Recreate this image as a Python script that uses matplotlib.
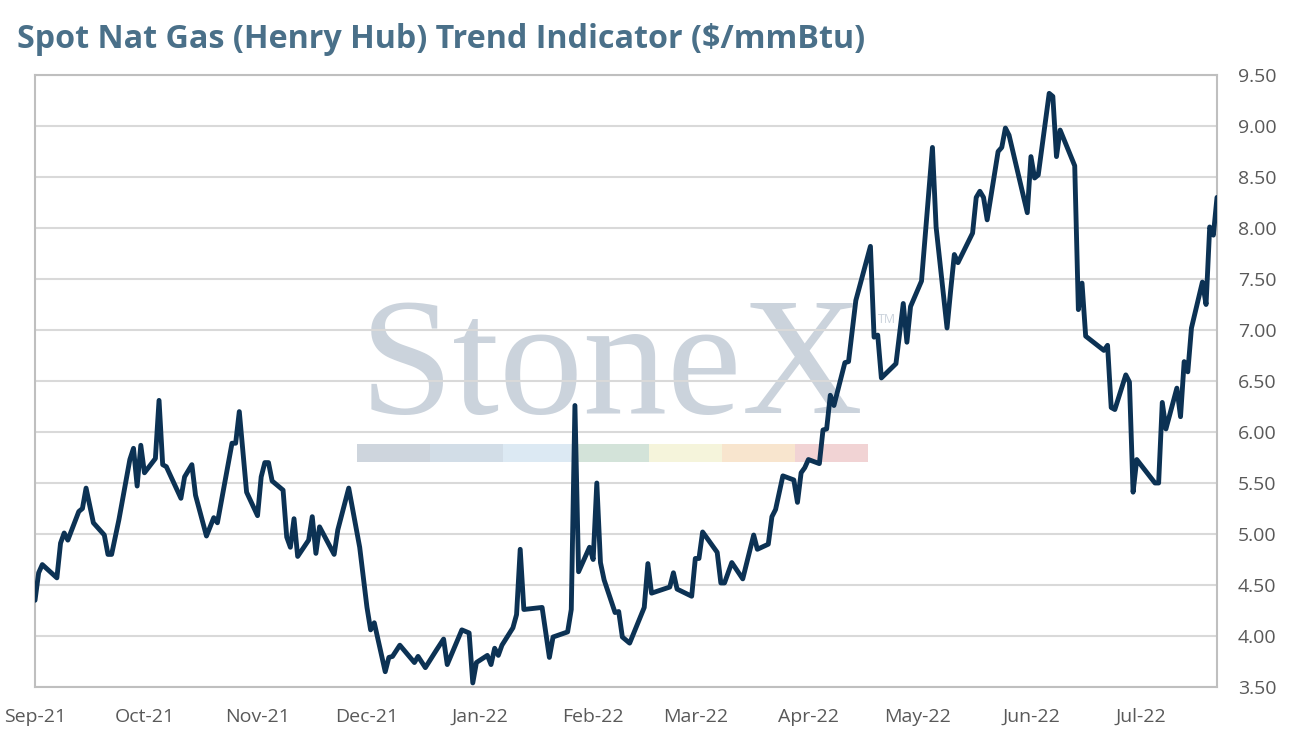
import matplotlib
matplotlib.use("Agg")
import matplotlib.pyplot as plt
import matplotlib.dates as mdates
from matplotlib.patches import Rectangle
from matplotlib.ticker import MultipleLocator, FormatStrFormatter
import pandas as pd

# Henry Hub spot price
dates = [
    "2021-09-01", "2021-09-02", "2021-09-03", "2021-09-07", "2021-09-08", "2021-09-09", "2021-09-10",
    "2021-09-13", "2021-09-14", "2021-09-15", "2021-09-17", "2021-09-20", "2021-09-21", "2021-09-22",
    "2021-09-24", "2021-09-27", "2021-09-28", "2021-09-29", "2021-09-30", "2021-10-01",
    "2021-10-04", "2021-10-05", "2021-10-06", "2021-10-07", "2021-10-11", "2021-10-12", "2021-10-14",
    "2021-10-15", "2021-10-18", "2021-10-20", "2021-10-21", "2021-10-25", "2021-10-26", "2021-10-27",
    "2021-10-28", "2021-10-29",
    "2021-11-01", "2021-11-02", "2021-11-03", "2021-11-04", "2021-11-05", "2021-11-08", "2021-11-09",
    "2021-11-10", "2021-11-11", "2021-11-12", "2021-11-15", "2021-11-16", "2021-11-17", "2021-11-18",
    "2021-11-22", "2021-11-23", "2021-11-26", "2021-11-29",
    "2021-12-01", "2021-12-02", "2021-12-03", "2021-12-06", "2021-12-07", "2021-12-08", "2021-12-10",
    "2021-12-14", "2021-12-15", "2021-12-17", "2021-12-20", "2021-12-22", "2021-12-23", "2021-12-27",
    "2021-12-29", "2021-12-30", "2021-12-31",
    "2022-01-03", "2022-01-04", "2022-01-05", "2022-01-06", "2022-01-07", "2022-01-10", "2022-01-11",
    "2022-01-12", "2022-01-13", "2022-01-18", "2022-01-20", "2022-01-21", "2022-01-25", "2022-01-26",
    "2022-01-27", "2022-01-28", "2022-01-31",
    "2022-02-01", "2022-02-02", "2022-02-03", "2022-02-04", "2022-02-07", "2022-02-08", "2022-02-09",
    "2022-02-11", "2022-02-15", "2022-02-16", "2022-02-17", "2022-02-22", "2022-02-23", "2022-02-24",
    "2022-02-28",
    "2022-03-01", "2022-03-02", "2022-03-03", "2022-03-07", "2022-03-08", "2022-03-09", "2022-03-11",
    "2022-03-14", "2022-03-17", "2022-03-18", "2022-03-21", "2022-03-22", "2022-03-23", "2022-03-25",
    "2022-03-28", "2022-03-29", "2022-03-30", "2022-03-31",
    "2022-04-01", "2022-04-04", "2022-04-05", "2022-04-06", "2022-04-07", "2022-04-08", "2022-04-11",
    "2022-04-12", "2022-04-14", "2022-04-18", "2022-04-19", "2022-04-20", "2022-04-21", "2022-04-25",
    "2022-04-27", "2022-04-28", "2022-04-29",
    "2022-05-02", "2022-05-05", "2022-05-06", "2022-05-09", "2022-05-10", "2022-05-11", "2022-05-12",
    "2022-05-16", "2022-05-17", "2022-05-18", "2022-05-19", "2022-05-20", "2022-05-23", "2022-05-24",
    "2022-05-25", "2022-05-26", "2022-05-31",
    "2022-06-01", "2022-06-02", "2022-06-03", "2022-06-06", "2022-06-07", "2022-06-08", "2022-06-09",
    "2022-06-13", "2022-06-14", "2022-06-15", "2022-06-16", "2022-06-21", "2022-06-22", "2022-06-23",
    "2022-06-24", "2022-06-27", "2022-06-28", "2022-06-29", "2022-06-30",
    "2022-07-05", "2022-07-06", "2022-07-07", "2022-07-08", "2022-07-11", "2022-07-12", "2022-07-13",
    "2022-07-14", "2022-07-15", "2022-07-18", "2022-07-19", "2022-07-20", "2022-07-21", "2022-07-22",
]
prices = [
    4.35, 4.62, 4.70, 4.57, 4.91, 5.01, 4.94,
    5.22, 5.25, 5.45, 5.11, 4.99, 4.80, 4.80,
    5.14, 5.73, 5.84, 5.47, 5.87, 5.60,
    5.74, 6.31, 5.68, 5.66, 5.35, 5.56, 5.68,
    5.38, 4.98, 5.16, 5.11, 5.89, 5.89, 6.20,
    5.80, 5.41,
    5.18, 5.56, 5.70, 5.70, 5.52, 5.43, 4.97,
    4.87, 5.15, 4.78, 4.94, 5.17, 4.81, 5.07,
    4.80, 5.04, 5.45, 4.87,
    4.28, 4.06, 4.13, 3.65, 3.79, 3.80, 3.91,
    3.74, 3.80, 3.69, 3.86, 3.97, 3.72, 4.06,
    4.03, 3.54, 3.74,
    3.81, 3.72, 3.88, 3.81, 3.91, 4.08, 4.21,
    4.85, 4.26, 4.28, 3.79, 3.99, 4.04, 4.26,
    6.26, 4.63, 4.87,
    4.75, 5.50, 4.72, 4.55, 4.23, 4.24, 3.99,
    3.93, 4.28, 4.71, 4.42, 4.48, 4.62, 4.46,
    4.39,
    4.76, 4.76, 5.02, 4.82, 4.52, 4.52, 4.72,
    4.56, 4.99, 4.85, 4.90, 5.17, 5.24, 5.57,
    5.53, 5.31, 5.60, 5.65,
    5.73, 5.69, 6.02, 6.03, 6.36, 6.26, 6.68,
    6.69, 7.29, 7.82, 6.93, 6.95, 6.53, 6.67,
    7.26, 6.88, 7.23,
    7.48, 8.79, 8.01, 7.02, 7.39, 7.74, 7.66,
    7.95, 8.30, 8.36, 8.30, 8.08, 8.75, 8.79,
    8.98, 8.91, 8.15,
    8.70, 8.49, 8.52, 9.32, 9.29, 8.70, 8.96,
    8.61, 7.20, 7.46, 6.94, 6.80, 6.85, 6.24,
    6.22, 6.56, 6.49, 5.41, 5.73,
    5.50, 5.50, 6.29, 6.03, 6.43, 6.15, 6.69,
    6.59, 7.02, 7.47, 7.25, 8.01, 7.93, 8.30,
]

title = "Spot Nat Gas (Henry Hub) Trend Indicator ($/mmBtu)"
x_start, x_end = "2021-09-01", "2022-07-22"
y_min, y_max, y_step = 3.5, 9.5, 0.5

# watermark bar colours
stripe_colors = ["#CED5DD", "#D2DDE7", "#DCE9F3", "#D3E3D9", "#F5F4DB", "#F8E5CE", "#F1D3D4"]

line_color = "#0C3254"
grid_color = "#D9D9D9"
text_gray = "#595959"

plt.rcParams["font.family"] = ["Open Sans", "DejaVu Sans"]

fig = plt.figure(figsize=(12.94, 7.47), dpi=100)
W, H = 1294, 747
ax = fig.add_axes([35 / W, (H - 687) / H, 1182 / W, 612 / H])

# StoneX watermark
ax.text(0.488, 0.448, "StoneX", transform=ax.transAxes, ha="center", va="baseline",
        fontsize=121, family="Liberation Serif", color="#CBD3DC", zorder=0.1)
ax.text(0.713, 0.600, "TM", transform=ax.transAxes, ha="left", va="center",
        fontsize=9, color="#CBD3DC", zorder=0.1)
seg_w = 73 / 1182
for i, c in enumerate(stripe_colors):
    ax.add_patch(Rectangle((0.2724 + i * seg_w, 0.3676), seg_w, 0.0294,
                           transform=ax.transAxes, facecolor=c, edgecolor="none", zorder=0.1))

x = pd.to_datetime(dates)
ax.plot(x, prices, color=line_color, linewidth=3.5, solid_joinstyle="round",
        solid_capstyle="round", zorder=3)

ax.set_xlim(pd.Timestamp(x_start), pd.Timestamp(x_end))
ax.set_ylim(y_min, y_max)

ax.yaxis.set_major_locator(MultipleLocator(y_step))
ax.yaxis.set_major_formatter(FormatStrFormatter("%.2f"))
ax.yaxis.tick_right()
ax.xaxis.set_major_locator(mdates.MonthLocator())
ax.xaxis.set_major_formatter(mdates.DateFormatter("%b-%y"))

ax.tick_params(axis="both", length=0, labelsize=14, labelcolor=text_gray)
ax.tick_params(axis="y", pad=15)
ax.tick_params(axis="x", pad=15)

ax.set_axisbelow(True)
ax.grid(axis="y", color=grid_color, linewidth=1.5)
for s in ax.spines.values():
    s.set_color("#BFBFBF")
    s.set_linewidth(1.5)

# title, sized so it spans the same width as in the original
t = fig.text(17 / W, 1 - 40 / H, title, ha="left", va="center", fontsize=22,
             fontweight="bold", color="#4A7089")
fig.canvas.draw()
t.set_fontsize(22 * 845 / t.get_window_extent().width)

fig.savefig("out.png", dpi=100, facecolor="white")
